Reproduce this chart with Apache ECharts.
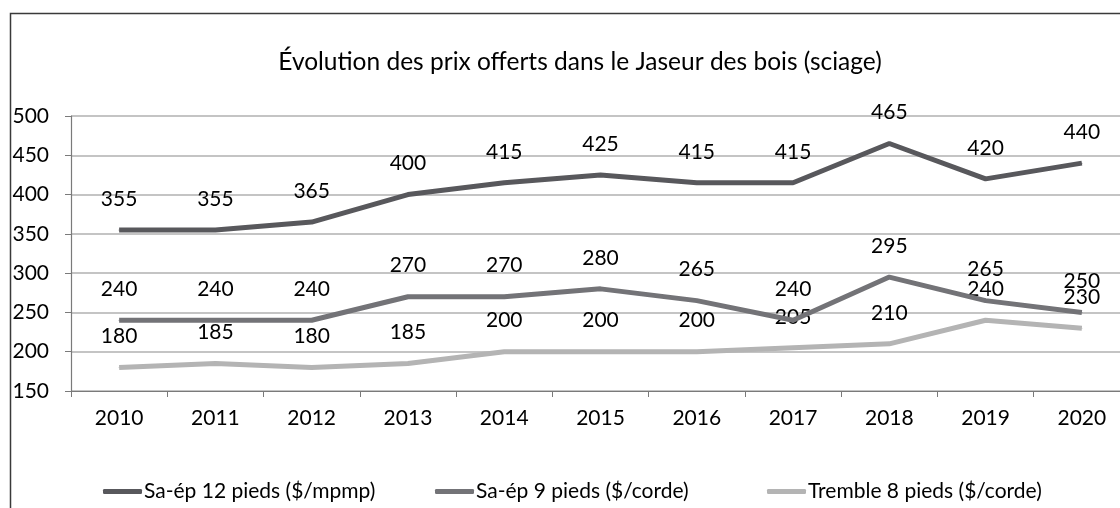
<!DOCTYPE html>
<html>
<head>
<meta charset="utf-8">
<script src="https://cdn.jsdelivr.net/npm/echarts@6/dist/echarts.min.js"></script>
<style>
html,body{margin:0;padding:0;background:#fff;}
#chart{width:1120px;height:508px;}
</style>
</head>
<body>
<div id="chart"></div>
<script>
const titleText = "Évolution des prix offerts dans le Jaseur des bois (sciage)";
const years = ["2010","2011","2012","2013","2014","2015","2016","2017","2018","2019","2020"];
const seriesNames = ["Sa-ép 12 pieds ($/mpmp)", "Sa-ép 9 pieds ($/corde)", "Tremble 8 pieds ($/corde)"];
const saep12 = [355,355,365,400,415,425,415,415,465,420,440];
const saep9 = [240,240,240,270,270,280,265,240,295,265,250];
const tremble8 = [180,185,180,185,200,200,200,205,210,240,230];
const yTicks = [150,200,250,300,350,400,450,500];

const FONT = "Lato";
const colors = ["#58585c", "#737377", "#b4b4b4"];
const dataSets = [saep12, saep9, tremble8];

const chart = echarts.init(document.getElementById('chart'));
const legendLefts = [98, 430, 762];

const option = {
  animation: false,
  backgroundColor: '#fff',
  textStyle: {fontFamily: FONT},
  title: {
    text: titleText,
    left: 575,
    textAlign: 'center',
    top: 45,
    textStyle: {fontFamily: FONT, fontSize: 24.5, fontWeight: 'normal', color: '#000'}
  },
  graphic: [{
    type: 'rect',
    z: -10,
    shape: {x: 10.5, y: 13.5, width: 1300, height: 700},
    style: {fill: 'none', stroke: '#3a3a3a', lineWidth: 1.5}
  }],
  legend: seriesNames.map((n, i) => ({
    data: [n],
    left: legendLefts[i],
    top: 476,
    icon: 'roundRect',
    itemWidth: 39,
    itemHeight: 5,
    itemGap: 3,
    textStyle: {fontFamily: FONT, fontSize: 21, color: '#000', padding: [0,0,0,-3]}
  })),
  grid: {left: 71, top: 116, width: 1059, height: 275, outerBoundsMode: 'none', containLabel: false},
  xAxis: {
    type: 'category',
    data: years,
    boundaryGap: true,
    axisLine: {lineStyle: {color: '#7a7a7a', width: 1.2}},
    axisTick: {show: true, length: 6, lineStyle: {color: '#7a7a7a'}},
    axisLabel: {fontFamily: FONT, fontSize: 21, color: '#000', margin: 17}
  },
  yAxis: {
    type: 'value',
    min: yTicks[0],
    max: yTicks[yTicks.length - 1],
    interval: 50,
    axisLine: {show: true, lineStyle: {color: '#7a7a7a', width: 1.2}},
    axisTick: {show: true, length: 6, lineStyle: {color: '#7a7a7a'}},
    axisLabel: {fontFamily: FONT, fontSize: 21, color: '#000', margin: 22},
    splitLine: {lineStyle: {color: '#c4c4c4', width: 2}}
  },
  series: dataSets.map((d, i) => ({
    name: seriesNames[i],
    type: 'line',
    data: d,
    symbol: 'circle',
    symbolSize: 1,
    showSymbol: true,
    itemStyle: {color: colors[i]},
    lineStyle: {color: colors[i], width: 5},
    z: 3 - i,
    label: {
      show: true,
      position: 'top',
      distance: 20,
      fontFamily: FONT,
      fontSize: 21,
      color: '#000'
    }
  }))
};
chart.setOption(option);
</script>
</body>
</html>
